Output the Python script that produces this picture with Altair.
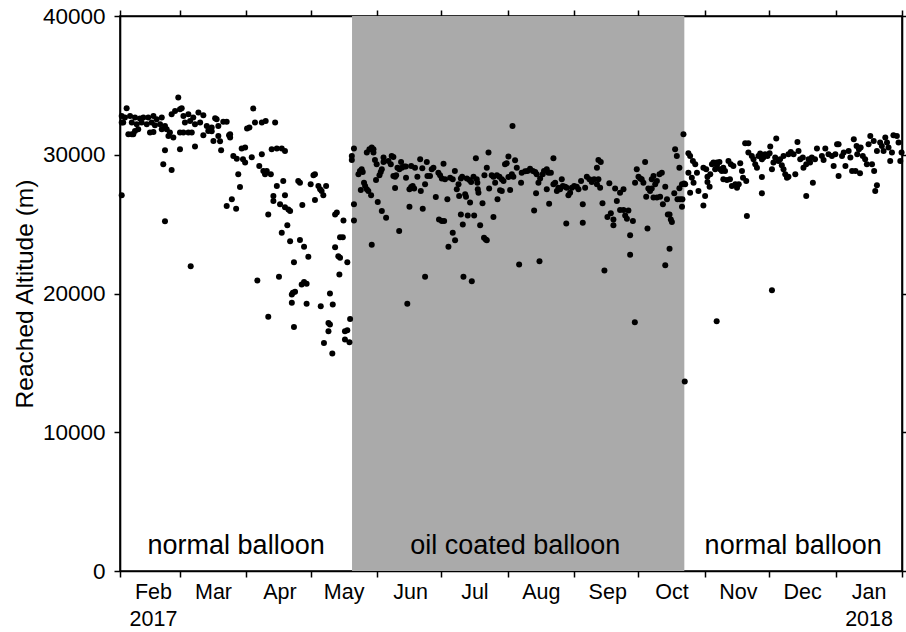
import altair as alt
import pandas as pd

# Daily radiosonde burst altitudes: (days since 2017-02-01 UTC, altitude in m)
early_normal = [
    (0.8, 32800), (0.8, 32320), (0.8, 27080), (1.5, 32320), (2.3, 32680), (3.1, 33360), (3.9, 31480),
    (4.7, 32800), (5.5, 32320), (5.5, 31480), (6.2, 31480), (7.0, 32680), (7.0, 31720), (7.8, 32200),
    (8.5, 31840), (9.3, 32610), (10.1, 32320), (10.9, 32680), (12.5, 32200), (13.2, 32680), (14.0, 31600),
    (14.8, 32320), (15.6, 32800), (15.6, 31640), (16.3, 32130), (17.1, 32560), (18.7, 32200), (19.5, 32680),
    (19.5, 31840), (20.2, 29310), (21.0, 32080), (21.0, 30320), (21.0, 25200), (21.8, 31840), (22.6, 31360),
    (23.3, 31600), (24.1, 32920), (24.1, 28900), (24.9, 31240), (25.7, 33160), (27.2, 34130), (28.0, 33280),
    (28.0, 30400), (28.0, 31600), (28.8, 33360), (29.6, 32800), (29.6, 31600), (30.3, 32320), (31.9, 32920),
    (31.9, 31600), (32.7, 32440), (33.0, 21970), (33.5, 31600), (34.2, 32680), (35.0, 32200), (35.0, 30590),
    (36.6, 33040), (37.4, 32320), (38.9, 32850), (38.9, 31410), (40.5, 32080), (41.2, 31720), (42.8, 31960),
    (42.8, 31700), (43.6, 31000), (44.4, 32630), (45.1, 32560), (45.9, 32080), (45.9, 31360), (46.7, 30970),
    (47.2, 30320), (48.2, 32370), (49.8, 32370), (49.8, 26300), (50.9, 31410), (51.4, 31480), (51.4, 31240),
    (52.2, 26790), (52.9, 29910), (54.2, 26110), (54.5, 29720), (55.2, 28590), (56.0, 27670), (56.8, 30450),
    (57.4, 29670), (58.4, 30520), (58.4, 29440), (59.3, 31890), (60.4, 31960), (61.5, 29820), (62.2, 33330),
    (63.0, 32320), (64.1, 20940), (65.0, 29190), (66.2, 30040), (66.2, 32320), (66.9, 28830), (67.7, 28590),
    (68.0, 32440), (68.5, 28830), (69.2, 25700), (69.2, 18320), (70.4, 28590), (70.8, 30400), (71.6, 27020),
    (71.6, 26660), (72.4, 32320), (73.2, 30450), (73.2, 27750), (74.2, 21210), (74.7, 26430), (75.5, 30450),
    (75.5, 24380), (76.2, 28110), (77.0, 30270), (77.0, 27080), (77.0, 26210), (78.1, 24910), (78.6, 26060),
    (79.4, 25940), (79.4, 23770), (80.2, 19930), (80.2, 19330), (80.7, 20050), (81.2, 22260), (81.2, 17590),
    (81.7, 20120), (83.2, 28110), (84.0, 27990), (84.0, 23850), (84.8, 20650), (85.1, 26370), (85.9, 20820),
    (85.9, 23370), (87.1, 20700), (87.1, 19260), (87.9, 22650), (89.0, 27870), (90.3, 28520), (91.0, 28590),
    (91.0, 26740), (92.6, 27750), (93.4, 27510), (93.7, 19080), (94.1, 27390), (94.9, 27080), (95.2, 16440),
    (96.2, 27750), (97.3, 17880), (97.3, 17280), (98.0, 20000), (98.0, 17760), (99.1, 15670), (99.3, 19210),
    (100.4, 25700), (100.4, 23340), (101.2, 25830), (101.9, 22690), (102.4, 21370), (102.7, 24060),
    (102.7, 22580), (104.0, 24060), (104.3, 25270), (105.0, 17280), (105.0, 16680), (106.1, 22260),
    (106.1, 17350), (107.1, 16480), (107.4, 18170),
]

oil_coated = [
    (108.2, 29910), (108.2, 29620), (109.2, 30450), (109.2, 26430), (109.2, 25270), (111.3, 28590),
    (112.0, 28830), (112.8, 28950), (113.3, 28760), (112.4, 27460), (114.4, 27750), (113.9, 27990),
    (115.2, 27510), (115.9, 27390), (117.2, 27080), (117.5, 23520), (115.2, 30160), (116.4, 30400),
    (117.5, 30520), (118.3, 30400), (118.3, 30160), (119.0, 29620), (119.8, 29310), (119.5, 28180),
    (120.3, 26590), (121.1, 28520), (121.7, 28760), (122.2, 28950), (122.2, 25940), (123.0, 29800),
    (123.0, 29480), (124.2, 25460), (125.3, 29550), (126.8, 29910), (127.6, 29840), (126.4, 29310),
    (127.6, 28470), (128.4, 28420), (128.9, 28520), (128.4, 27600), (129.5, 29070), (130.4, 28950),
    (131.5, 29070), (131.2, 29480), (130.3, 24500), (132.6, 29150), (133.4, 29150), (133.5, 28350),
    (134.1, 19260), (135.1, 26260), (135.1, 27510), (135.9, 27670), (136.6, 27750), (137.3, 27560),
    (135.9, 29190), (137.7, 29070), (138.8, 28420), (140.1, 29670), (141.1, 29020), (140.4, 27390),
    (141.3, 26110), (142.4, 21210), (142.4, 27870), (143.2, 29480), (143.5, 28470), (144.7, 28470),
    (145.5, 28950), (146.3, 29070), (147.4, 26950), (148.6, 28710), (149.4, 28520), (148.9, 25340),
    (150.2, 25220), (151.0, 29360), (151.3, 25220), (150.2, 28280), (151.7, 28230), (152.8, 26790),
    (153.3, 23370), (154.1, 28350), (155.3, 28230), (155.3, 24380), (156.3, 28830), (156.4, 23830),
    (157.2, 27510), (158.0, 27870), (158.3, 27020), (159.1, 28280), (159.7, 28420), (159.1, 25700),
    (160.0, 24980), (160.3, 21210), (161.1, 27150), (161.5, 26980), (162.3, 25630), (161.9, 28280),
    (163.1, 28180), (163.4, 26550), (163.9, 28040), (164.2, 20890), (165.0, 28420), (165.3, 25630),
    (166.1, 29750), (166.5, 28230), (166.8, 27990), (167.0, 27510), (167.3, 27270), (168.1, 24910),
    (169.2, 26500), (169.9, 24020), (170.7, 23900), (171.2, 23830), (170.1, 28520), (171.2, 29070),
    (172.0, 30160), (172.3, 27560), (173.5, 28520), (174.3, 28420), (174.3, 25510), (175.1, 27990),
    (176.2, 26790), (175.9, 28520), (177.1, 28420), (178.2, 28230), (179.0, 28110), (177.4, 27440),
    (178.2, 27390), (179.7, 29310), (180.5, 29390), (181.3, 29870), (181.3, 28400), (182.1, 27460),
    (182.9, 28590), (183.6, 28420), (183.2, 32080), (184.4, 29600), (185.2, 29070), (186.3, 22090),
    (187.2, 27990), (187.5, 28710), (189.1, 28810), (190.2, 28830), (191.4, 29000), (192.7, 28830),
    (193.8, 28760), (194.5, 28590), (193.3, 25990), (194.2, 27220), (195.8, 22330), (195.3, 27990),
    (196.1, 28280), (197.3, 28590), (197.9, 28830), (199.2, 28950), (200.0, 28710), (201.1, 28710),
    (199.2, 27510), (200.3, 26470), (202.3, 29750), (202.3, 27870), (203.1, 27990), (203.9, 27390),
    (204.6, 27630), (205.4, 27510), (206.2, 28230), (206.7, 27750), (207.8, 27700), (208.5, 27630),
    (208.3, 25050), (209.3, 27080), (210.1, 27270), (210.9, 27630), (212.0, 27750), (213.2, 27700),
    (214.0, 27510), (215.2, 28110), (216.0, 26430), (216.0, 25100), (217.1, 27630), (217.9, 28420),
    (219.1, 28230), (220.2, 28040), (221.3, 28230), (222.6, 27870), (223.3, 28230), (224.1, 27630),
    (222.6, 29070), (223.3, 29620), (224.4, 29480), (225.2, 26500), (226.1, 21660), (227.5, 25510),
    (228.4, 27940), (229.1, 25780), (230.3, 25340), (230.3, 24910), (231.1, 27560), (231.9, 26660),
    (233.4, 27270), (235.0, 27510), (233.4, 26010), (235.0, 26010), (235.8, 25630), (236.6, 25390),
    (237.3, 25990), (238.1, 24190), (238.1, 22790), (239.4, 25220), (240.3, 17930), (240.4, 27990),
    (241.2, 28950), (242.0, 28420), (242.8, 28280), (243.5, 28230), (244.3, 27990), (245.1, 29480),
    (245.6, 26980), (246.2, 24690), (246.6, 27560), (247.4, 27390), (248.2, 27560), (248.2, 28230),
    (249.0, 28470), (249.8, 27870), (250.6, 28110), (249.0, 26910), (250.6, 26910), (252.1, 26980),
    (251.8, 28590), (252.9, 28710), (253.4, 26430), (254.5, 27700), (254.5, 22040), (255.3, 26790),
    (255.7, 25700), (256.5, 25700), (256.5, 23230), (257.1, 25340), (257.6, 25150), (258.7, 27220),
    (259.1, 30400), (259.9, 29910), (260.2, 26790), (261.4, 26790), (262.5, 26790), (261.1, 29070),
    (261.1, 27580), (262.3, 27870), (262.3, 26260), (263.0, 31480), (263.3, 27920), (263.6, 13650),
]

late_normal = [
    (263.8, 27870), (265.3, 30110), (266.1, 29910), (267.4, 29550), (268.5, 29310), (265.3, 28710),
    (266.9, 28350), (267.7, 27990), (266.1, 27270), (269.3, 28710), (270.0, 27390), (272.3, 29070),
    (273.6, 28950), (272.3, 26350), (273.1, 27020), (274.2, 28420), (274.2, 28040), (275.2, 27700),
    (275.5, 28590), (276.3, 29310), (277.0, 29440), (277.8, 28950), (278.6, 29440), (279.8, 29480),
    (278.5, 18000), (278.6, 29240), (280.1, 28950), (280.9, 28830), (281.6, 29070), (282.4, 28830),
    (281.6, 28230), (283.3, 28180), (284.7, 28230), (284.0, 29550), (285.1, 29310), (286.3, 29190),
    (285.6, 27750), (287.2, 27870), (288.0, 27630), (288.8, 27870), (290.3, 28830), (290.8, 28350),
    (289.5, 29390), (291.8, 30830), (293.3, 30830), (292.3, 28110), (293.3, 30160), (294.9, 29910),
    (295.7, 29670), (296.5, 29310), (297.3, 29070), (292.6, 25580), (298.0, 29910), (298.8, 30090),
    (299.6, 29670), (300.3, 29800), (301.1, 30040), (302.2, 29910), (303.2, 30110), (299.6, 28400),
    (299.6, 27220), (303.5, 30590), (304.3, 28950), (305.0, 29440), (305.8, 29800), (304.3, 20240),
    (306.3, 31170), (307.3, 29550), (308.1, 29670), (308.9, 29240), (309.7, 28950), (310.5, 28590),
    (311.3, 28350), (312.0, 28420), (309.7, 29910), (312.0, 30040), (313.1, 30200), (314.4, 30040),
    (315.2, 28590), (316.2, 30920), (316.7, 30270), (317.5, 29670), (318.7, 29800), (319.0, 29070),
    (320.3, 29310), (321.4, 29670), (322.1, 29440), (320.3, 27020), (322.9, 29800), (324.4, 29670),
    (325.3, 30450), (323.4, 27990), (327.6, 29910), (328.4, 29620), (329.2, 30450), (330.7, 30040),
    (332.3, 29910), (333.1, 29190), (333.9, 30040), (334.7, 30760), (335.4, 30760), (335.4, 28470),
    (337.0, 29910), (337.8, 30160), (338.6, 29190), (340.1, 30270), (340.9, 29800), (341.7, 28830),
    (342.5, 31120), (343.3, 28830), (343.8, 30630), (344.1, 30040), (344.9, 30400), (345.7, 30520),
    (345.4, 28660), (346.7, 29910), (347.8, 29670), (348.6, 29310), (349.4, 30760), (350.2, 31360),
    (351.0, 29310), (352.0, 28830), (352.5, 27390), (353.3, 27800), (351.8, 31000), (353.3, 30270),
    (354.8, 30880), (355.6, 30630), (356.4, 30270), (357.2, 31240), (358.0, 30880), (358.7, 30520),
    (359.5, 29550), (360.3, 30160), (361.0, 31410), (362.6, 31360), (363.4, 30880), (364.2, 29550),
    (364.8, 30160),
]

# Period during which oil-coated balloons were flown (days since 2017-02-01)
oil_period = (108.3, 263.4)

# Region captions and the day at which each is centred
region_names = ["normal balloon", "oil coated balloon", "normal balloon"]
region_centres = [54.2, 184.5, 314.2]
caption_altitude = 1250

altitude_ticks = [0, 10000, 20000, 30000, 40000]
altitude_range = [0, 40000]

START = pd.Timestamp("2017-02-01", tz="UTC")
END = pd.Timestamp("2018-02-01", tz="UTC")


def iso(day):
    return (START + pd.Timedelta(days=day)).strftime("%Y-%m-%dT%H:%M:%SZ")


def ms(ts):
    return int(ts.timestamp() * 1000)


month_starts = [ms(t) for t in pd.date_range(START, END, freq="MS")]
x_domain = [ms(START), ms(END)]

flights = pd.DataFrame(
    [(iso(d), a) for d, a in early_normal + oil_coated + late_normal],
    columns=["date", "altitude"],
)
band = pd.DataFrame({
    "start": [iso(oil_period[0])],
    "end": [iso(oil_period[1])],
    "low": [altitude_range[0]],
    "high": [altitude_range[1]],
})
captions = pd.DataFrame({
    "date": [iso(d) for d in region_centres],
    "altitude": [caption_altitude] * 3,
    "name": region_names,
})

FONT = "Liberation Sans"
x_scale = alt.Scale(type="utc", domain=x_domain, nice=False)
y_scale = alt.Scale(domain=altitude_range, nice=False, zero=True)

common_axis = dict(
    domainColor="black", domainWidth=1.6, tickColor="black", tickWidth=1.5,
    grid=False, title=None,
)

month_label = (
    "utcyear(datum.value) == 2018 && utcmonth(datum.value) == 1 ? '' : "
    "(utcyear(datum.value) == 2017 && utcmonth(datum.value) == 1) || utcmonth(datum.value) == 0 ? "
    "[utcFormat(datum.value, '%b'), utcFormat(datum.value, '%Y')] : utcFormat(datum.value, '%b')"
)

bottom_axis = alt.Axis(
    orient="bottom", values=month_starts, labelExpr=month_label, labelOffset=33,
    labelOverlap=False, labelFlush=False, labelBound=False, tickSize=6, labelPadding=4,
    labelFont=FONT, labelFontSize=21.5, labelLineHeight=27, labelColor="black",
    **common_axis,
)
top_axis = alt.Axis(orient="top", values=month_starts, labels=False, tickSize=6, **common_axis)

left_axis = alt.Axis(
    orient="left", values=altitude_ticks, format="d", tickSize=6, labelPadding=9,
    labelFont=FONT, labelFontSize=22.5, labelColor="black",
    domainColor="black", domainWidth=1.6, tickColor="black", tickWidth=1.5, grid=False,
    title="Reached Altitude (m)", titleFont=FONT, titleFontSize=24.5, titleFontWeight="normal",
    titleColor="black", titlePadding=5,
)
right_axis = alt.Axis(orient="right", values=altitude_ticks, labels=False, tickSize=6, **common_axis)

shade = alt.Chart(band).mark_rect(color="#aaaaaa").encode(
    x=alt.X("start:T", scale=x_scale, axis=top_axis),
    x2="end:T",
    y=alt.Y("low:Q", scale=y_scale, axis=right_axis),
    y2="high:Q",
)

dots = alt.Chart(flights).mark_circle(size=36, color="black", opacity=1).encode(
    x=alt.X("date:T", scale=x_scale, axis=bottom_axis),
    y=alt.Y("altitude:Q", scale=y_scale, axis=left_axis),
)

labels = alt.Chart(captions).mark_text(
    font=FONT, fontSize=27, align="center", baseline="alphabetic", color="black"
).encode(
    x=alt.X("date:T", scale=x_scale, axis=None),
    y=alt.Y("altitude:Q", scale=y_scale, axis=None),
    text="name:N",
)

chart = (
    alt.layer(shade, dots, labels)
    .resolve_axis(x="independent", y="independent")
    .properties(
        width=782,
        height=555,
        autosize=alt.AutoSizeParams(type="none"),
        padding={"left": 120, "top": 16, "right": 4, "bottom": 61},
        background="white",
    )
    .configure_view(stroke="black", strokeWidth=1.6)
)

chart.save("out.html", embed_options={"renderer": "svg", "actions": False})
